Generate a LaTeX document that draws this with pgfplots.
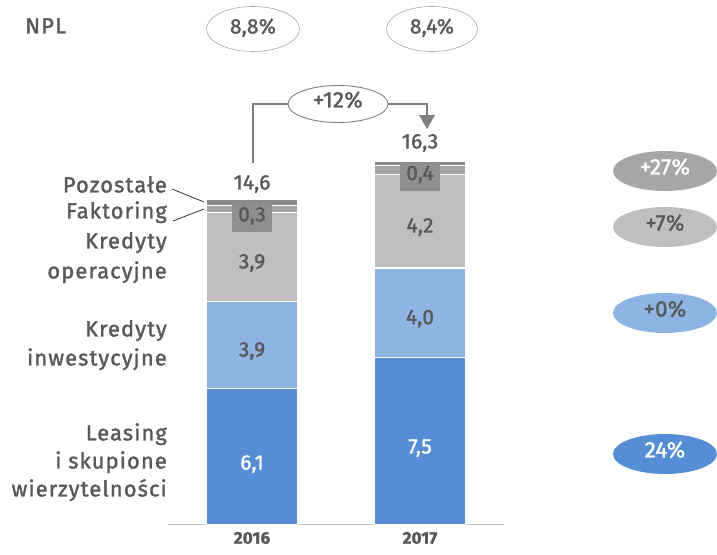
\documentclass[border=0pt]{standalone}
\usepackage{fontspec}
\setmainfont{Fira Sans}[LetterSpace=5, FakeBold=1.5]
\newfontfamily\numf{Fira Sans}[LetterSpace=1, FakeBold=1.5]
\usepackage{pgfplots}
\usepackage{pgfplotstable}
\pgfplotsset{compat=1.18}
\usetikzlibrary{shapes.geometric,arrows.meta}

\definecolor{txt}{HTML}{595959}
\definecolor{cLeas}{HTML}{558ED5}
\definecolor{cInw}{HTML}{8DB4E2}
\definecolor{cOper}{HTML}{BFBFBF}
\definecolor{cFakt}{HTML}{A6A6A6}
\definecolor{cPoz}{HTML}{8A8A8A}
\definecolor{cBox}{HTML}{8F8F8F}
\definecolor{cLine}{HTML}{7F7F7F}

\pgfplotstableread{
x leasing inw oper fakt poz
0 6.1 3.9 4.0 0.3 0.3
1 7.5 4.0 4.2 0.4 0.2
}\bars

\pgfplotstableread{
x y lab
0 2.62 6,1
1 3.34 7,5
}\lwhite

\pgfplotstableread{
x y lab
0 7.69 3,9
1 9.14 4,0
0 11.64 3,9
1 13.25 4,2
0 15.18 14,6
1 17.02 16,3
}\ldark

\pgfplotstableread{
x y lab
0 13.75 0,3
1 15.60 0,4
}\lbox

\tikzset{fnt/.style={font=\fontsize{22}{25}\selectfont, text=txt, inner sep=0pt, text height=0.69em, text depth=0pt},
  nfnt/.style={fnt, font=\fontsize{21}{24}\selectfont\numf},
  bfnt/.style={fnt, font=\fontsize{22.5}{25}\selectfont\numf}}

\pgfplotsset{geom/.style={scale only axis, width=336bp, height=446bp,
  xmin=-0.5, xmax=1.5, ymin=0, ymax=20, at={(168bp,-524.5bp)}, anchor=south west}}

\begin{document}
\begin{tikzpicture}
\path[use as bounding box] (0,0) rectangle (717bp,-555bp);

\begin{axis}[geom,
  ybar stacked, bar width=92bp,
  axis x line*=bottom, axis y line=none,
  x axis line style={draw=cOper, line width=1.3pt},
  xtick={0,1}, xticklabels={2016,2017},
  major tick length=0pt,
  xticklabel style={font=\fontsize{17}{20}\selectfont\numf\bfseries, text=txt, yshift=-4bp},
  every axis plot/.append style={draw=white, line width=1.3pt},
  clip=false]
\addplot[fill=cLeas] table[x=x,y=leasing]{\bars};
\addplot[fill=cInw] table[x=x,y=inw]{\bars};
\addplot[fill=cOper] table[x=x,y=oper]{\bars};
\addplot[fill=cFakt] table[x=x,y=fakt]{\bars};
\addplot[fill=cPoz] table[x=x,y=poz]{\bars};
\end{axis}

\begin{axis}[geom, hide axis, clip=false]
\addplot[draw=none, mark=none, nodes near coords, point meta=explicit symbolic,
  every node near coord/.append style={anchor=center, nfnt, text=white}]
  table[x=x,y=y,meta=lab]{\lwhite};
\addplot[draw=none, mark=none, nodes near coords, point meta=explicit symbolic,
  every node near coord/.append style={anchor=center, nfnt}]
  table[x=x,y=y,meta=lab]{\ldark};
\addplot[draw=none, mark=none, nodes near coords, point meta=explicit symbolic,
  every node near coord/.append style={anchor=center, nfnt, fill=cBox, minimum width=40bp, minimum height=28bp, text height=0.69em}]
  table[x=x,y=y,meta=lab]{\lbox};
\end{axis}

\begin{scope}[x=1bp,y=-1bp]
% NPL row
\node[fnt, anchor=west] at (25,30) {NPL};
\node[ellipse, draw=cFakt, line width=0.6pt, fill=white, minimum width=93bp, minimum height=45bp, inner sep=0pt] at (253,29) {};
\node[nfnt] at (253,30) {8,8\%};
\node[ellipse, draw=cFakt, line width=0.6pt, fill=white, minimum width=91bp, minimum height=45bp, inner sep=0pt] at (432,29) {};
\node[nfnt] at (432,30) {8,4\%};

% growth arrow
\draw[cLine, line width=1.6pt] (253,163) -- (253,104) -- (427,104) -- (427,118);
\fill[cLine] (419,115) -- (435,115) -- (427,129) -- cycle;
\node[ellipse, draw=cLine, line width=0.9pt, fill=white, minimum width=100bp, minimum height=37bp, inner sep=0pt] at (338,104) {};
\node[bfnt] at (338,104) {+12\%};

% left category labels
\node[fnt, anchor=east] at (167,189) {Pozostałe};
\node[fnt, anchor=east] at (167,215) {Faktoring};
\node[fnt, anchor=east] at (167,245) {Kredyty};
\node[fnt, anchor=east] at (167,275) {operacyjne};
\node[fnt, anchor=east] at (167,333) {Kredyty};
\node[fnt, anchor=east] at (167,362) {inwestycyjne};
\node[fnt, anchor=east] at (167,437) {Leasing};
\node[fnt, anchor=east] at (167,465) {i skupione};
\node[fnt, anchor=east] at (167,493) {wierzytelności};
\draw[black!80, line width=0.8pt] (172,189) -- (204,202);
\draw[black!80, line width=0.8pt] (173,221) -- (204,209);

% right change badges
\node[ellipse, fill=cFakt, minimum width=104bp, minimum height=40bp, inner sep=0pt] at (665,171) {};
\node[bfnt, text=white] at (665,171) {+27\%};
\node[ellipse, fill=cOper, minimum width=104bp, minimum height=40bp, inner sep=0pt] at (665,227) {};
\node[bfnt] at (665,227) {+7\%};
\node[ellipse, fill=cInw, minimum width=104bp, minimum height=40bp, inner sep=0pt] at (665,313) {};
\node[bfnt] at (665,313) {+0\%};
\node[ellipse, fill=cLeas, minimum width=104bp, minimum height=40bp, inner sep=0pt] at (665,454) {};
\node[bfnt, text=white] at (665,454) {24\%};
\end{scope}
\end{tikzpicture}
\end{document}
